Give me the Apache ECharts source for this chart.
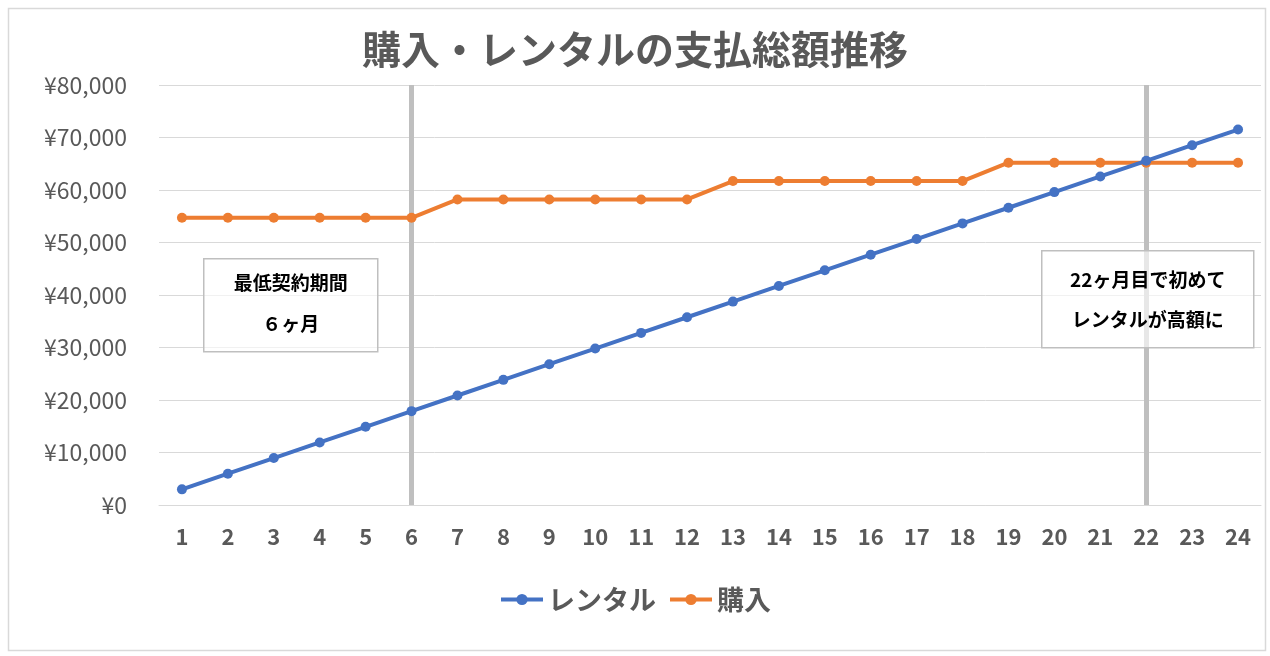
<!DOCTYPE html>
<html>
<head>
<meta charset="utf-8">
<script src="https://cdn.jsdelivr.net/npm/echarts@6/dist/echarts.min.js"></script>
<style>
    html, body {
        margin: 0;
        padding: 0;
        background: #ffffff;
    }
    #chart {
        width: 1270px;
        height: 656px;
    }
</style>
</head>
<body>
<div id="chart"></div>
<script>
    // 月数
    const months = ['1', '2', '3', '4', '5', '6', '7', '8', '9', '10', '11', '12',
        '13', '14', '15', '16', '17', '18', '19', '20', '21', '22', '23', '24'];
    // レンタル累計
    const rentalValues = [2980, 5960, 8940, 11920, 14900, 17880, 20860, 23840, 26820, 29800, 32780, 35760,
        38740, 41720, 44700, 47680, 50660, 53640, 56620, 59600, 62580, 65560, 68540, 71520];
    // 購入累計
    const purchaseValues = [54700, 54700, 54700, 54700, 54700, 54700, 58200, 58200, 58200, 58200, 58200, 58200,
        61700, 61700, 61700, 61700, 61700, 61700, 65200, 65200, 65200, 65200, 65200, 65200];
    // 縦線の位置
    const markMonths = ['6', '22'];
    const yTicks = [0, 10000, 20000, 30000, 40000, 50000, 60000, 70000, 80000];

    const font = '"Noto Sans CJK JP", "Noto Sans", sans-serif';
    const textGray = '#595959';

    const dom = document.getElementById('chart');
    const myChart = echarts.init(dom, null, { renderer: 'canvas' });

    // 注記ボックス
    const noteBox = (x, y, w, h, lines, lineY) => ({
        type: 'group',
        left: x,
        top: y,
        z: 100,
        children: [
            {
                type: 'rect',
                z: 100,
                shape: { width: w, height: h },
                style: { fill: 'rgba(255,255,255,0.62)', stroke: '#bfbfbf', lineWidth: 1.5 }
            }
        ].concat(lines.map((t, i) => ({
            type: 'text',
            z: 101,
            x: w / 2,
            y: lineY[i],
            style: {
                text: t,
                fontFamily: font,
                fontSize: 19,
                fontWeight: 'bold',
                fill: '#000000',
                align: 'center',
                verticalAlign: 'middle'
            }
        })))
    });

    const option = {
        animation: false,
        backgroundColor: '#ffffff',
        title: {
            text: '購入・レンタルの支払総額推移',
            left: 'center',
            top: 25,
            textStyle: {
                fontFamily: font,
                fontSize: 39,
                fontWeight: 'bold',
                color: textGray
            }
        },
        legend: {
            bottom: 38,
            left: 'center',
            itemWidth: 42,
            itemHeight: 14,
            itemGap: 12,
            lineStyle: { width: 4 },
            textStyle: {
                fontFamily: font,
                fontSize: 27,
                fontWeight: 'bold',
                color: textGray
            },
            data: ['レンタル', '購入']
        },
        grid: {
            left: 159,
            right: 9,
            top: 85,
            bottom: 151
        },
        xAxis: {
            type: 'category',
            data: months,
            boundaryGap: true,
            axisTick: { show: false },
            axisLine: {
                show: true,
                lineStyle: { color: '#d9d9d9', width: 1 }
            },
            axisLabel: {
                interval: 0,
                margin: 21,
                fontFamily: font,
                fontSize: 22,
                fontWeight: 'bold',
                color: textGray
            }
        },
        yAxis: {
            type: 'value',
            min: yTicks[0],
            max: yTicks[yTicks.length - 1],
            interval: 10000,
            axisLine: { show: false },
            axisTick: { show: false },
            splitLine: {
                lineStyle: { color: '#d9d9d9', width: 1 }
            },
            axisLabel: {
                margin: 32,
                fontFamily: font,
                fontSize: 23,
                color: textGray,
                formatter: function (v) {
                    return '¥' + v.toLocaleString('en-US');
                }
            }
        },
        series: [
            {
                name: 'レンタル',
                type: 'line',
                data: rentalValues,
                symbol: 'circle',
                symbolSize: 10,
                z: 3,
                lineStyle: { color: '#4472c4', width: 4 },
                itemStyle: { color: '#4472c4' },
                markLine: {
                    silent: true,
                    symbol: 'none',
                    label: { show: false },
                    lineStyle: { color: '#bfbfbf', width: 5, type: 'solid' },
                    z: 1,
                    data: markMonths.map(function (m) { return { xAxis: m }; })
                }
            },
            {
                name: '購入',
                type: 'line',
                data: purchaseValues,
                symbol: 'circle',
                symbolSize: 10,
                z: 2,
                lineStyle: { color: '#ed7d31', width: 4 },
                itemStyle: { color: '#ed7d31' }
            }
        ],
        graphic: [
            {
                type: 'rect',
                left: 6,
                top: 6,
                shape: { width: 1257, height: 642 },
                style: { fill: 'none', stroke: '#d9d9d9', lineWidth: 1.5 },
                silent: true
            },
            noteBox(203, 258, 174, 93, ['最低契約期間', '６ヶ月'], [24, 65]),
            noteBox(1041, 250, 212, 97, ['22ヶ月目で初めて', 'レンタルが高額に'], [29, 69])
        ]
    };

    option && myChart.setOption(option);
</script>
</body>
</html>
